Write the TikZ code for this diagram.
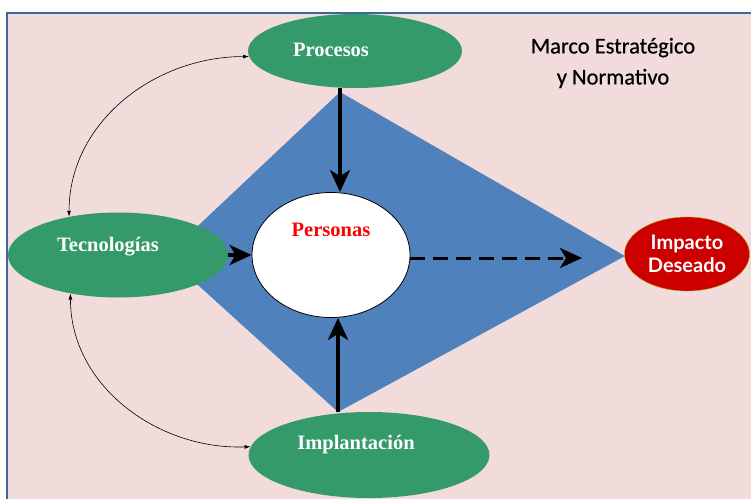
\documentclass[tikz,border=0pt]{standalone}
\usepackage{fontspec}
\setmainfont{Liberation Serif}
\newfontfamily\calfont[FakeBold=0.6]{Carlito}
\newfontfamily\gillfont{Lato}
\usetikzlibrary{shapes.geometric,arrows.meta}
\definecolor{bgpink}{HTML}{F2DCDB}
\definecolor{frameblue}{HTML}{3C679E}
\definecolor{diamblue}{HTML}{4F81BD}
\definecolor{nodegreen}{HTML}{349A69}
\definecolor{impred}{HTML}{CC0000}
\tikzset{
  greenell/.style={ellipse, fill=nodegreen, inner sep=0pt, label distance=0pt,
    font=\fontsize{20}{24}\selectfont\bfseries, text=white},
  lbl/.style={text=white, font=\fontsize{20.5}{24}\selectfont\bfseries},
  bigarrow/.style={line width=4.5pt, -{Stealth[length=22pt,width=20pt,inset=6pt]}},
  thinarrow/.style={line width=0.6pt, {Latex[length=6pt,width=4pt]}-{Latex[length=6pt,width=4pt]}},
}
\begin{document}
\begin{tikzpicture}[x=1pt,y=-1pt]
\useasboundingbox (0,0) rectangle (751,498);
\begin{scope}
\clip (0,0) rectangle (751,498);
\fill[white] (0,0) rectangle (751,498);
\draw[fill=bgpink, draw=frameblue, line width=2pt] (7,13) rectangle (770,520);

% diamond
\coordinate (dtop) at (340,92);
\coordinate (dright) at (625,256);
\coordinate (dbot) at (338,412);
\coordinate (dleft) at (166,256);
\fill[diamblue] (dtop) -- (dright) -- (dbot) -- (dleft) -- cycle;

% nodes
\node[greenell, minimum width=214pt, minimum height=74pt,
  label={[lbl,xshift=-24pt,yshift=1pt]center:Procesos}] (proc) at (355,51) {};
\node[greenell, minimum width=220pt, minimum height=85pt,
  label={[lbl,xshift=-10pt,yshift=8pt]center:Tecnologías}] (tec) at (118,255) {};
\node[greenell, minimum width=241pt, minimum height=86pt,
  label={[lbl,xshift=-13pt,yshift=10pt]center:Implantación}] (impl) at (369,455) {};
\node[ellipse, draw=black, line width=0.8pt, fill=white, inner sep=0pt,
  minimum width=158pt, minimum height=125pt,
  label={[text=red,font=\fontsize{20.5}{24}\selectfont\bfseries,yshift=25pt]center:Personas}] (pers) at (331,255) {};
\node[ellipse, fill=impred, draw=olive!70!yellow, line width=0.4pt, inner sep=0pt,
  minimum width=125pt, minimum height=74pt, align=center, text=white,
  font=\gillfont\bfseries\fontsize{20}{23}\selectfont] (imp) at (687,254) {Impacto\\Deseado};

\node[font=\calfont\fontsize{22.5}{31}\selectfont, align=center] (marco) at (613,63)
  {Marco Estratégico\\y Normativo};

% arrows
\draw[bigarrow] (proc.south -| dtop) -- (pers.north -| dtop);
\draw[bigarrow] (impl.north -| dbot) -- (pers.south -| dbot);
\draw[bigarrow] (tec.east) -- (pers.west);
\coordinate (dashend) at (582,258);
\draw[line width=3pt, dash pattern=on 15pt off 8pt, -{Stealth[length=22pt,width=20pt,inset=6pt]}]
  (pers.east |- dashend) -- (dashend);

\draw[thinarrow] (tec.142) to[out=90,in=180] (proc.183);
\draw[thinarrow] (tec.219) to[out=270,in=182] (impl.176);
\end{scope}
\end{tikzpicture}
\end{document}
